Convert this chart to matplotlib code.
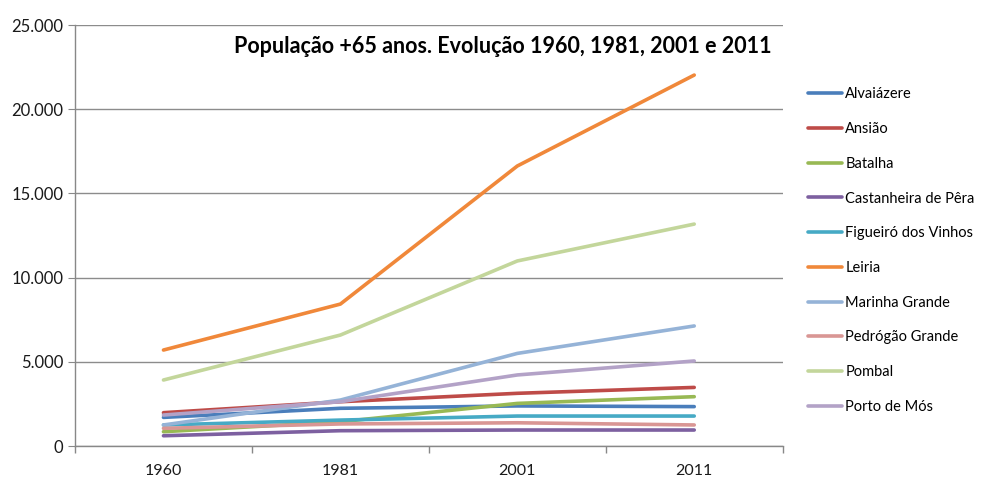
import matplotlib.pyplot as plt
from matplotlib.ticker import FuncFormatter, FixedLocator

plt.rcParams['font.family'] = ['Lato', 'DejaVu Sans']

years = ['1960', '1981', '2001', '2011']

alvaiazere = [1700, 2240, 2380, 2340]
ansiao = [1980, 2630, 3130, 3480]
batalha = [850, 1440, 2530, 2930]
castanheira = [610, 910, 950, 950]
figueiro = [1250, 1540, 1780, 1780]
leiria = [5700, 8430, 16630, 22030]
marinha = [1250, 2730, 5500, 7130]
pedrogao = [1050, 1310, 1380, 1250]
pombal = [3920, 6590, 10990, 13180]
porto_mos = [1840, 2630, 4220, 5050]

names = ['Alvaiázere', 'Ansião', 'Batalha', 'Castanheira de Pêra', 'Figueiró dos Vinhos',
         'Leiria', 'Marinha Grande', 'Pedrógão Grande', 'Pombal', 'Porto de Mós']
series = [alvaiazere, ansiao, batalha, castanheira, figueiro,
          leiria, marinha, pedrogao, pombal, porto_mos]
colors = ['#4A7EBB', '#BE4B48', '#98B954', '#7D60A0', '#46AAC5',
          '#F0883A', '#95B3D7', '#D99694', '#C3D69B', '#B3A2C7']

fig = plt.figure(figsize=(9.87, 4.8), dpi=100)
ax = fig.add_axes([0.076, 0.0708, 0.717, 0.877])

x = range(len(years))
for name, vals, c in zip(names, series, colors):
    ax.plot(x, vals, color=c, lw=2.6, label=name, solid_capstyle='round')

ax.set_xlim(-0.5, 3.5)
ax.set_ylim(0, 25000)
ax.set_yticks(range(0, 25001, 5000))
ax.yaxis.set_major_formatter(FuncFormatter(lambda v, p: f'{int(v):,}'.replace(',', '.')))
ax.set_xticks(list(x))
ax.set_xticklabels(years)
ax.xaxis.set_minor_locator(FixedLocator([-0.5, 0.5, 1.5, 2.5, 3.5]))
ax.tick_params(axis='x', which='major', length=0, pad=13, labelsize=11.5, colors='#1a1a1a')
ax.tick_params(axis='x', which='minor', length=5, color='#888888', width=1)
ax.tick_params(axis='y', length=5, color='#888888', labelsize=12, colors='#1a1a1a')
ax.grid(axis='y', color='#8c8c8c', lw=1)
ax.set_axisbelow(True)
for s in ['top', 'right']:
    ax.spines[s].set_visible(False)
for s in ['left', 'bottom']:
    ax.spines[s].set_color('#888888')
    ax.spines[s].set_linewidth(1)

ax.text(0.985, 0.975, 'População +65 anos. Evolução 1960, 1981, 2001 e 2011',
        transform=ax.transAxes, ha='right', va='top', fontsize=15.5, fontweight='bold')

fig.legend(loc='upper left', bbox_to_anchor=(0.813, 0.83), frameon=False,
           fontsize=10.5, handlelength=2.3, handletextpad=0.25, labelspacing=1.42,
           borderaxespad=0)

fig.savefig('out.png', dpi=100)
